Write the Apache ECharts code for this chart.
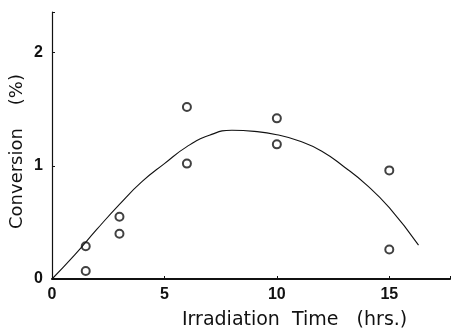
<!DOCTYPE html>
<html><head><meta charset="utf-8">
<script src="https://cdn.jsdelivr.net/npm/echarts@6/dist/echarts.min.js"></script>
<style>html,body{margin:0;padding:0;background:#fff}#c{width:453px;height:329px}</style>
</head><body><div id="c"></div>
<script>
const pointX = [1.5, 1.5, 3, 3, 6, 6, 10, 10, 15, 15];
const pointY = [0.29, 0.07, 0.55, 0.40, 1.52, 1.02, 1.42, 1.19, 0.96, 0.26];
const curveX = [0, 1, 2, 3, 4, 5, 6, 7, 8, 9, 10, 11, 12, 13, 14, 15, 16.3];
const curveY = [0, 0.21, 0.44, 0.66, 0.86, 1.02, 1.17, 1.27, 1.315, 1.305, 1.275, 1.22, 1.13, 0.99, 0.83, 0.63, 0.30];
const xTicks = [0, 5, 10, 15];
const yTicks = [0, 1, 2];
const xTitle = 'Irradiation  Time   (hrs.)';
const yTitle = 'Conversion    (%)';

const chart = echarts.init(document.getElementById('c'));
const ink = '#111';
const font = 'Liberation Sans, Arial, sans-serif';
const tfont = '"DejaVu Sans", sans-serif';
chart.setOption({
  animation: false,
  grid: {left: 52, right: 0, top: 12, bottom: 50},
  xAxis: {
    type: 'value', min: 0, max: 17.7, interval: 5,
    axisLine: {lineStyle: {color: ink, width: 2}},
    axisTick: {inside: true, length: 3, lineStyle: {color: ink}},
    splitLine: {show: false},
    axisLabel: {color: ink, fontFamily: font, fontWeight: 'bold', fontSize: 16, margin: 8,
      formatter: v => xTicks.includes(v) ? String(v) : ''}
  },
  yAxis: {
    type: 'value', min: 0, max: 2.36, interval: 1,
    axisLine: {show: true, lineStyle: {color: ink, width: 1.2}},
    axisTick: {show: true, inside: true, length: 3, lineStyle: {color: ink}},
    splitLine: {show: false},
    axisLabel: {color: ink, fontFamily: font, fontWeight: 'bold', fontSize: 16, margin: 9,
      formatter: v => yTicks.includes(v) ? String(v) : ''}
  },
  graphic: [
    {type: 'text', left: 182, top: 311, style: {text: xTitle, fill: ink, font: '19px ' + tfont}},
    {type: 'text', x: 8, y: 229, rotation: Math.PI / 2,
     style: {text: yTitle, fill: ink, font: '18px ' + tfont}}
  ],
  series: [
    {type: 'line', smooth: true, symbol: 'none',
     lineStyle: {color: ink, width: 1.1},
     data: curveX.map((x, i) => [x, curveY[i]])},
    {type: 'scatter', symbol: 'circle', symbolSize: 8,
     itemStyle: {color: '#fff', borderColor: ink, borderWidth: 2},
     data: pointX.map((x, i) => [x, pointY[i]])}
  ]
});
</script></body></html>
